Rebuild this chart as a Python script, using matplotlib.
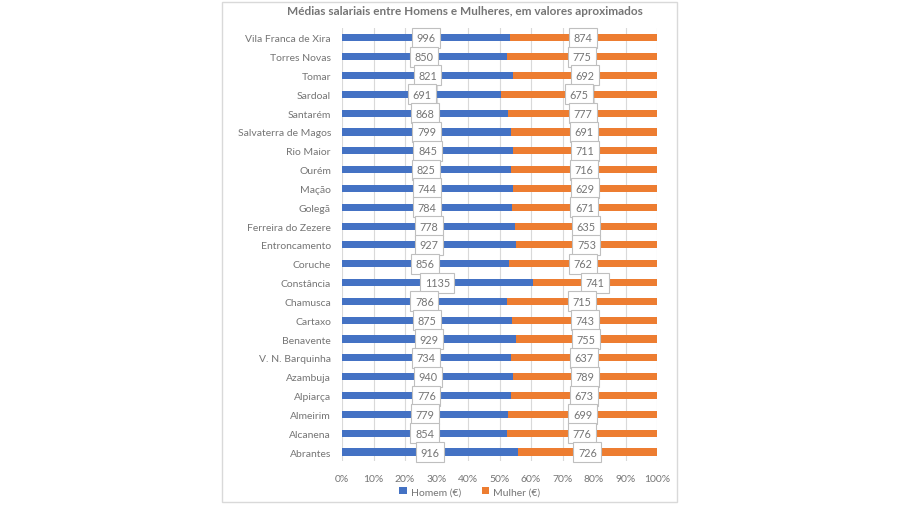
import numpy as np
import matplotlib.pyplot as plt
from matplotlib.patches import Rectangle
from matplotlib.ticker import PercentFormatter

plt.rcParams['font.family'] = ['Lato', 'DejaVu Sans']

concelhos = ['Vila Franca de Xira', 'Torres Novas', 'Tomar', 'Sardoal', 'Santarém',
             'Salvaterra de Magos', 'Rio Maior', 'Ourém', 'Mação', 'Golegã',
             'Ferreira do Zezere', 'Entroncamento', 'Coruche', 'Constância', 'Chamusca',
             'Cartaxo', 'Benavente', 'V. N. Barquinha', 'Azambuja', 'Alpiarça',
             'Almeirim', 'Alcanena', 'Abrantes']
homem = [996, 850, 821, 691, 868, 799, 845, 825, 744, 784, 778, 927, 856, 1135,
         786, 875, 929, 734, 940, 776, 779, 854, 916]
mulher = [874, 775, 692, 675, 777, 691, 711, 716, 629, 671, 635, 753, 762, 741,
          715, 743, 755, 637, 789, 673, 699, 776, 726]

h = np.array(homem, dtype=float)
m = np.array(mulher, dtype=float)
tot = h + m
ph = h / tot
pm = m / tot
y = np.arange(len(concelhos))[::-1]

fig = plt.figure(figsize=(9, 5.06), dpi=100)
ax = fig.add_axes([0.38, 0.086, 0.35, 0.856])

blue = '#4472C4'
orange = '#ED7D31'
grey = '#757575'
ax.barh(y, ph, height=0.38, color=blue, label='Homem (€)', zorder=2)
ax.barh(y, pm, left=ph, height=0.38, color=orange, label='Mulher (€)', zorder=2)

box = dict(boxstyle='square,pad=0.42', fc='white', ec='#BFBFBF', lw=0.8)
for yi, a, b, vh, vm in zip(y, ph, pm, homem, mulher):
    ax.text(a / 2, yi, str(vh), ha='center', va='center', fontsize=7.8,
            color=grey, bbox=box, zorder=3)
    ax.text(a + b / 2, yi, str(vm), ha='center', va='center', fontsize=7.8,
            color=grey, bbox=box, zorder=3)

ax.set_xlim(0, 1)
ax.set_ylim(-0.5, len(concelhos) - 0.5)
ax.set_xticks(np.arange(0, 1.01, 0.1))
ax.xaxis.set_major_formatter(PercentFormatter(1.0, decimals=0))
ax.set_yticks(y)
ax.set_yticklabels(concelhos)
ax.tick_params(axis='both', length=0, labelsize=7.5, colors=grey)
ax.tick_params(axis='y', pad=8)
ax.tick_params(axis='x', pad=9)
ax.grid(axis='x', color='#D9D9D9', lw=0.8, zorder=0)
for s in ax.spines.values():
    s.set_visible(False)

ax.set_title('Médias salariais entre Homens e Mulheres, em valores aproximados',
             fontsize=8.5, fontweight='bold', color=grey, pad=10, x=0.39)

fig.legend(loc='center', bbox_to_anchor=(0.522, 0.026), ncol=2, frameon=False,
           fontsize=7.5, handlelength=0.7, handleheight=0.7, columnspacing=2.0,
           handletextpad=0.4, labelcolor=grey)

fig.patches.append(Rectangle((222 / 900, 3 / 506), 455 / 900, 500 / 506,
                             transform=fig.transFigure, fill=False,
                             ec='#D9D9D9', lw=1))

fig.savefig('out.png', dpi=100)
